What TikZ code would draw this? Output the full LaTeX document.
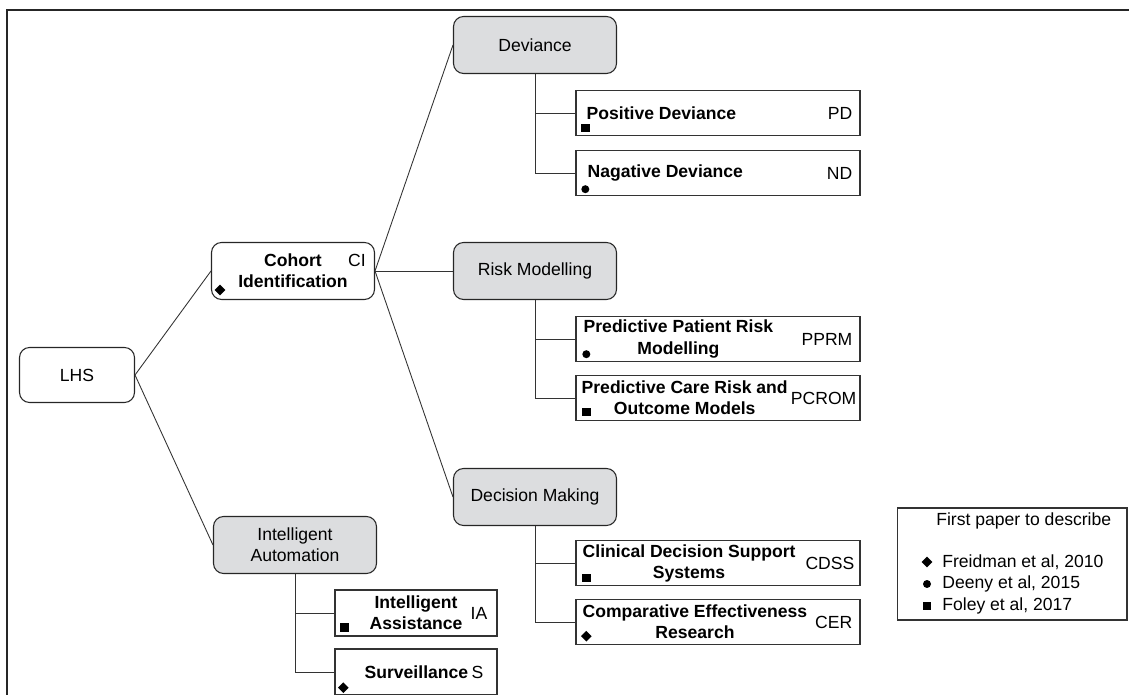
\documentclass[tikz,border=0pt]{standalone}
\usepackage{fontspec}
\setmainfont{Liberation Sans}
\usetikzlibrary{positioning,calc,shapes.geometric}
\definecolor{grayfill}{RGB}{220,221,223}

\begin{document}
\begin{tikzpicture}[x=0.02cm,y=-0.02cm,font=\fontsize{10}{12}\selectfont,
	every node/.style={inner sep=0pt},
	rnd/.style={draw=black!85,line width=0.6pt,rounded corners=0.2cm,minimum width=3.26cm,minimum height=1.14cm,align=center},
	grp/.style={rnd,fill=grayfill},
	leaf/.style={draw=black!80,line width=0.8pt,minimum width=5.68cm,minimum height=0.9cm},
	small/.style={leaf,minimum width=3.24cm,minimum height=0.92cm},
	ttl/.style={font=\fontsize{10}{12}\selectfont\bfseries,align=center},
	sqmark/.style={fill=black,minimum size=0.17cm},
	dotmark/.style={circle,fill=black,minimum size=0.16cm},
	dmmark/.style={diamond,fill=black,minimum size=0.22cm},
	link/.style={line width=0.5pt,draw=black!80}]
	\useasboundingbox (0,0) rectangle (1129,695);
	\clip (0,0) rectangle (1129,695);
	\draw[line width=1.2pt,black!85] (7,720) -- (7,10) -- (1140,10);

	% main boxes
	\node[rnd,minimum width=2.3cm,minimum height=1.1cm] (lhs) at (77,375) {LHS};
	\node[rnd] (ci) at (293,271) {};
	\node[grp] (ia) at (295,545) {Intelligent\\Automation};
	\node[grp] (dev) at (535,45) {Deviance};
	\node[grp] (risk) at (535,271) {Risk Modelling};
	\node[grp] (dec) at (535,497) {Decision Making};

	\node[ttl,right=0.54cm of ci.west] (cit) {Cohort\\Identification};
	\node[anchor=east] (cia) at ($(ci.east)+(-9,-11)$) {CI};
	\node[dmmark] (cim) at ($(ci.south west)+(9,-10)$) {};

	% leaves
	\node[leaf] (pd) at (718,113) {};
	\node[leaf] (nd) at (718,173) {};
	\node[leaf] (pprm) at (718,339) {};
	\node[leaf] (pcrom) at (718,398) {};
	\node[leaf] (cdss) at (718,563) {};
	\node[leaf] (cer) at (718,622) {};
	\node[small] (ias) at (416,613) {};
	\node[small] (surv) at (416,672) {};

	\node[ttl,right=0.22cm of pd.west] (pdt) {Positive Deviance};
	\node[ttl,right=0.24cm of nd.west] (ndt) {Nagative Deviance};
	\node[ttl,right=0.16cm of pprm.west] (pprmt) {Predictive Patient Risk\\Modelling};
	\node[ttl,right=0.12cm of pcrom.west] (pcromt) {Predictive Care Risk and\\Outcome Models};
	\node[ttl,right=0.14cm of cdss.west] (cdsst) {Clinical Decision Support\\Systems};
	\node[ttl,right=0.14cm of cer.west] (cert) {Comparative Effectiveness\\Research};
	\node[ttl,right=0.7cm of ias.west] (iast) {Intelligent\\Assistance};
	\node[ttl,right=0.6cm of surv.west] (survt) {Surveillance};

	\node[left=0.16cm of pd.east] (pda) {PD};
	\node[left=0.16cm of nd.east] (nda) {ND};
	\node[left=0.16cm of pprm.east] (pprma) {PPRM};
	\node[left=0.08cm of pcrom.east] (pcroma) {PCROM};
	\node[left=0.12cm of cdss.east] (cdssa) {CDSS};
	\node[left=0.16cm of cer.east] (cera) {CER};
	\node[left=0.2cm of ias.east] (iasa) {IA};
	\node[left=0.28cm of surv.east] (surva) {S};

	\node[sqmark] (pdm) at ($(pd.south west)+(10,-8)$) {};
	\node[dotmark] (ndm) at ($(nd.south west)+(10,-7)$) {};
	\node[dotmark] (pprmm) at ($(pprm.south west)+(11,-8)$) {};
	\node[sqmark] (pcromm) at ($(pcrom.south west)+(11,-9)$) {};
	\node[sqmark] (cdssm) at ($(cdss.south west)+(11,-8)$) {};
	\node[dmmark] (cerm) at ($(cer.south west)+(11,-9)$) {};
	\node[sqmark] (iasm) at ($(ias.south west)+(10,-9)$) {};
	\node[dmmark] (survm) at ($(surv.south west)+(9,-8)$) {};

	% connectors
	\draw[link] (lhs.east) -- (ci.west);
	\draw[link] (lhs.east) -- (ia.west);
	\draw[link] (ci.east) -- (dev.west);
	\draw[link] (ci.east) -- (risk.west);
	\draw[link] (ci.east) -- (dec.west);
	\draw[link] (dev.south) |- (nd.west);
	\draw[link] (dev.south |- pd.west) -- (pd.west);
	\draw[link] (risk.south) |- (pcrom.west);
	\draw[link] (risk.south |- pprm.west) -- (pprm.west);
	\draw[link] (dec.south) |- (cer.west);
	\draw[link] (dec.south |- cdss.west) -- (cdss.west);
	\draw[link] (ia.south) |- (surv.west);
	\draw[link] (ia.south |- ias.west) -- (ias.west);

	% key
	\node[draw=black!80,line width=0.6pt,minimum width=4.6cm,minimum height=2.24cm] (key) at (1012,564) {};
	\node[anchor=west] (keyt) at (936,521) {First paper to describe};
	\node[anchor=west] (k1) at (942,562) {Freidman et al, 2010};
	\node[anchor=west] (k2) at (942,584) {Deeny et al, 2015};
	\node[anchor=west] (k3) at (942,606) {Foley et al, 2017};
	\node[dmmark] (k1m) at ($(k1.west)+(-15,0)$) {};
	\node[dotmark] (k2m) at ($(k2.west)+(-15,0)$) {};
	\node[sqmark] (k3m) at ($(k3.west)+(-15,0)$) {};
\end{tikzpicture}
\end{document}
